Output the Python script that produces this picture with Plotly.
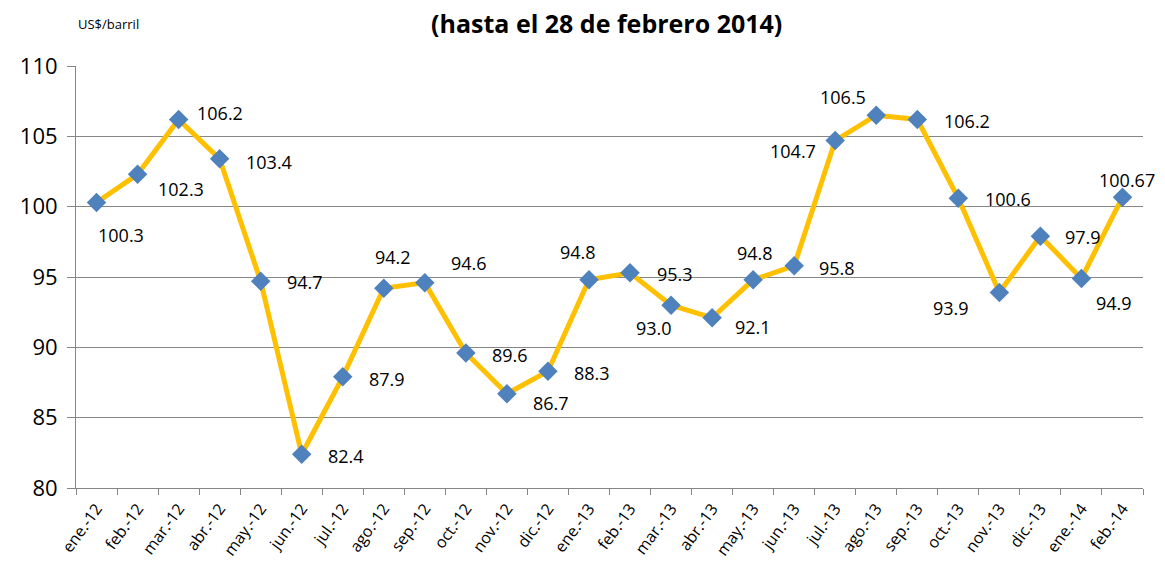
import plotly.graph_objects as go

months = ["ene.-12", "feb.-12", "mar.-12", "abr.-12", "may.-12", "jun.-12", "jul.-12",
          "ago.-12", "sep.-12", "oct.-12", "nov.-12", "dic.-12", "ene.-13", "feb.-13",
          "mar.-13", "abr.-13", "may.-13", "jun.-13", "jul.-13", "ago.-13", "sep.-13",
          "oct.-13", "nov.-13", "dic.-13", "ene.-14", "feb.-14"]
prices = [100.3, 102.3, 106.2, 103.4, 94.7, 82.4, 87.9, 94.2, 94.6, 89.6, 86.7, 88.3,
          94.8, 95.3, 93.0, 92.1, 94.8, 95.8, 104.7, 106.5, 106.2, 100.6, 93.9, 97.9,
          94.9, 100.67]
price_labels = ["100.3", "102.3", "106.2", "103.4", "94.7", "82.4", "87.9", "94.2", "94.6",
                "89.6", "86.7", "88.3", "94.8", "95.3", "93.0", "92.1", "94.8", "95.8",
                "104.7", "106.5", "106.2", "100.6", "93.9", "97.9", "94.9", "100.67"]
y_ticks = [80, 85, 90, 95, 100, 105, 110]

# label offsets in pixels (dx right, dy down) relative to each marker
label_offsets = [(24, 33), (43, 15), (41, -6), (49, 3), (44, 1), (44, 2), (44, 2),
                 (9, -31), (44, -20), (44, 2), (44, 9), (44, 2), (-11, -28), (45, 1),
                 (-17, 23), (41, 9), (2, -27), (43, 2), (-42, 10), (-33, -18), (50, 2),
                 (50, 1), (-48, 16), (43, 1), (33, 25), (5, -17)]

FONT = "Open Sans"

fig = go.Figure()
fig.add_trace(go.Scatter(
    x=months, y=prices, mode="lines+markers",
    line=dict(color="#FFC000", width=5),
    marker=dict(symbol="diamond", size=15, color="#4F81BD", line=dict(width=0)),
    showlegend=False, hoverinfo="x+y",
))

annotations = []
for m, v, t, (dx, dy) in zip(months, prices, price_labels, label_offsets):
    annotations.append(dict(x=m, y=v, xref="x", yref="y", text=t, showarrow=False,
                            xshift=dx, yshift=-dy,
                            font=dict(family=FONT, size=18, color="#000000")))

annotations.append(dict(x=0.497, y=1, xref="paper", yref="paper", yanchor="bottom",
                        yshift=24, text="<b>(hasta el 28 de febrero 2014)</b>",
                        showarrow=False, font=dict(family=FONT, size=25, color="#000000")))
annotations.append(dict(x=0, y=1, xref="paper", yref="paper", xanchor="left",
                        yanchor="bottom", xshift=0, yshift=31, text="US$/barril",
                        showarrow=False, font=dict(family=FONT, size=13, color="#000000")))

# The page body adds an 8px offset; size the figure to fit the 1165x568 window.
fig.update_layout(
    width=1157, height=560,
    margin=dict(l=68, r=22, t=58, b=80, autoexpand=False),
    paper_bgcolor="white", plot_bgcolor="white",
    annotations=annotations,
    font=dict(family=FONT, color="#000000"),
)
fig.update_xaxes(
    type="category", range=[-0.5, len(months) - 0.5], tickangle=-54,
    tickson="boundaries", ticks="outside", ticklen=6,
    tickcolor="#868686", showline=True, linecolor="#868686", linewidth=1,
    showgrid=False, automargin=False, ticklabelstandoff=4,
    tickfont=dict(family=FONT, size=16, color="#000000"),
)
fig.update_yaxes(
    range=[80, 110], tickvals=y_ticks, ticks="outside", ticklen=8, tickcolor="#868686",
    showline=True, linecolor="#868686", linewidth=1, showgrid=True, gridcolor="#868686",
    gridwidth=1, zeroline=False, automargin=False, ticklabelstandoff=5,
    tickfont=dict(family=FONT, size=22, color="#000000"),
)

fig.write_html("out.html")
